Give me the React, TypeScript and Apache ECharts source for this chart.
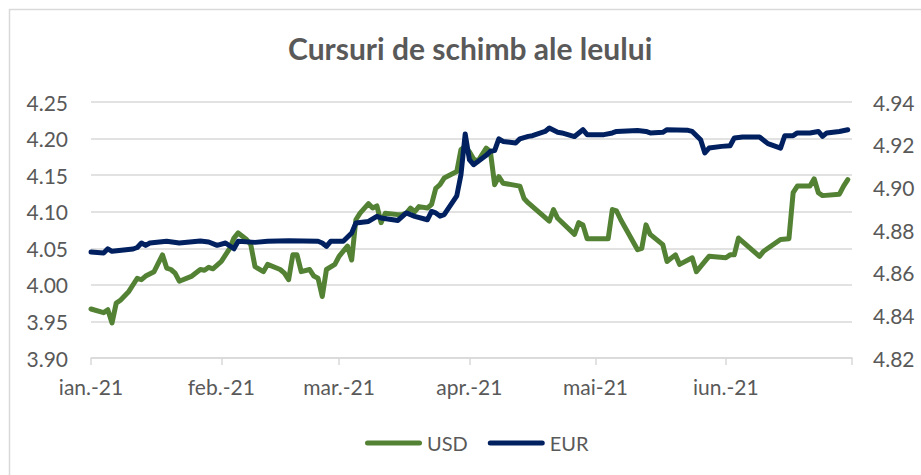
import React, { useEffect, useRef } from "react";
import * as echarts from "echarts";

const TITLE = "Cursuri de schimb ale leului";
const MONTH_LABELS = ["ian.-21", "feb.-21", "mar.-21", "apr.-21", "mai-21", "iun.-21"];
const MONTH_STARTS = ["2021-01-01", "2021-02-01", "2021-03-01", "2021-04-01", "2021-05-01", "2021-06-01"];
const AXIS_END = "2021-07-01";

const usdDates = [
  "2021-01-01", "2021-01-04", "2021-01-05", "2021-01-06", "2021-01-07", "2021-01-08", "2021-01-10", "2021-01-12",
  "2021-01-13", "2021-01-14", "2021-01-16", "2021-01-18", "2021-01-19", "2021-01-20", "2021-01-21", "2021-01-22",
  "2021-01-25", "2021-01-27", "2021-01-28", "2021-01-29", "2021-01-30", "2021-02-01", "2021-02-03", "2021-02-04",
  "2021-02-05", "2021-02-07", "2021-02-08", "2021-02-09", "2021-02-11", "2021-02-12", "2021-02-15", "2021-02-16",
  "2021-02-17", "2021-02-18", "2021-02-19", "2021-02-20", "2021-02-22", "2021-02-23", "2021-02-24", "2021-02-25",
  "2021-02-26", "2021-02-28", "2021-03-01", "2021-03-03", "2021-03-04", "2021-03-05", "2021-03-06", "2021-03-08",
  "2021-03-09", "2021-03-10", "2021-03-11", "2021-03-12", "2021-03-15", "2021-03-16", "2021-03-17", "2021-03-18",
  "2021-03-19", "2021-03-20", "2021-03-22", "2021-03-23", "2021-03-24", "2021-03-25", "2021-03-26", "2021-03-29",
  "2021-03-30", "2021-03-31", "2021-04-01", "2021-04-02", "2021-04-03", "2021-04-05", "2021-04-06", "2021-04-07",
  "2021-04-08", "2021-04-09", "2021-04-12", "2021-04-13", "2021-04-14", "2021-04-15", "2021-04-20", "2021-04-21",
  "2021-04-22", "2021-04-26", "2021-04-27", "2021-04-28", "2021-04-29", "2021-05-04", "2021-05-05", "2021-05-06",
  "2021-05-07", "2021-05-11", "2021-05-12", "2021-05-13", "2021-05-14", "2021-05-17", "2021-05-18", "2021-05-20",
  "2021-05-21", "2021-05-24", "2021-05-25", "2021-05-27", "2021-05-28", "2021-06-01", "2021-06-02", "2021-06-03",
  "2021-06-04", "2021-06-09", "2021-06-10", "2021-06-11", "2021-06-14", "2021-06-16", "2021-06-17", "2021-06-18",
  "2021-06-21", "2021-06-22", "2021-06-23", "2021-06-24", "2021-06-28", "2021-06-29", "2021-06-30",
];
const usdValues = [
  3.967, 3.962, 3.966, 3.948, 3.975, 3.979, 3.991, 4.009,
  4.007, 4.012, 4.018, 4.041, 4.023, 4.021, 4.016, 4.005,
  4.012, 4.021, 4.02, 4.024, 4.022, 4.032, 4.05, 4.064,
  4.071, 4.062, 4.055, 4.025, 4.018, 4.028, 4.021, 4.016,
  4.007, 4.041, 4.041, 4.018, 4.021, 4.012, 4.009, 3.984,
  4.021, 4.028, 4.039, 4.053, 4.034, 4.089, 4.098, 4.111,
  4.105, 4.108, 4.085, 4.098, 4.096, 4.096, 4.098, 4.105,
  4.1, 4.107, 4.105, 4.11, 4.132, 4.137, 4.146, 4.155,
  4.185, 4.189, 4.182, 4.172, 4.169, 4.187, 4.182, 4.137,
  4.148, 4.139, 4.136, 4.135, 4.118, 4.112, 4.087, 4.103,
  4.091, 4.069, 4.085, 4.082, 4.063, 4.063, 4.103, 4.101,
  4.089, 4.048, 4.05, 4.082, 4.069, 4.055, 4.032, 4.041,
  4.028, 4.037, 4.018, 4.032, 4.039, 4.037, 4.041, 4.041,
  4.064, 4.039, 4.046, 4.05, 4.062, 4.063, 4.126, 4.135,
  4.135, 4.145, 4.126, 4.122, 4.124, 4.135, 4.144,
];

const eurDates = [
  "2021-01-01", "2021-01-04", "2021-01-05", "2021-01-06", "2021-01-11", "2021-01-12", "2021-01-13", "2021-01-14",
  "2021-01-15", "2021-01-19", "2021-01-22", "2021-01-27", "2021-01-29", "2021-01-31", "2021-02-02", "2021-02-04",
  "2021-02-05", "2021-02-09", "2021-02-12", "2021-02-17", "2021-02-24", "2021-02-25", "2021-02-26", "2021-02-27",
  "2021-03-02", "2021-03-04", "2021-03-05", "2021-03-08", "2021-03-10", "2021-03-11", "2021-03-15", "2021-03-17",
  "2021-03-19", "2021-03-22", "2021-03-23", "2021-03-24", "2021-03-25", "2021-03-26", "2021-03-29", "2021-03-30",
  "2021-03-31", "2021-04-01", "2021-04-02", "2021-04-05", "2021-04-06", "2021-04-07", "2021-04-08", "2021-04-09",
  "2021-04-12", "2021-04-13", "2021-04-15", "2021-04-16", "2021-04-19", "2021-04-20", "2021-04-22", "2021-04-23",
  "2021-04-26", "2021-04-28", "2021-04-29", "2021-05-03", "2021-05-05", "2021-05-06", "2021-05-11", "2021-05-13",
  "2021-05-14", "2021-05-17", "2021-05-18", "2021-05-23", "2021-05-24", "2021-05-26", "2021-05-27", "2021-05-28",
  "2021-05-31", "2021-06-02", "2021-06-03", "2021-06-05", "2021-06-09", "2021-06-11", "2021-06-14", "2021-06-15",
  "2021-06-17", "2021-06-18", "2021-06-21", "2021-06-23", "2021-06-24", "2021-06-25", "2021-06-28", "2021-06-30",
];
const eurValues = [
  4.8697, 4.8692, 4.8712, 4.87, 4.8711, 4.8718, 4.8739, 4.8728,
  4.8739, 4.8747, 4.8739, 4.8748, 4.8744, 4.8728, 4.8739, 4.8712,
  4.8747, 4.8742, 4.8747, 4.875, 4.8747, 4.8739, 4.8723, 4.8747,
  4.8747, 4.8786, 4.8833, 4.884, 4.8864, 4.8856, 4.8845, 4.888,
  4.8864, 4.8848, 4.8887, 4.888, 4.8865, 4.8872, 4.896, 4.906,
  4.925, 4.913, 4.9106, 4.915, 4.9169, 4.9172, 4.9227, 4.9215,
  4.9208, 4.9227, 4.9239, 4.9242, 4.9262, 4.9278, 4.9258, 4.9255,
  4.9238, 4.927, 4.9247, 4.9247, 4.9255, 4.9262, 4.9266, 4.9262,
  4.9255, 4.9258, 4.927, 4.9267, 4.9262, 4.9223, 4.9161, 4.9184,
  4.9192, 4.9195, 4.9231, 4.9236, 4.9236, 4.9205, 4.9184, 4.9242,
  4.9242, 4.9255, 4.9255, 4.9262, 4.9239, 4.9255, 4.9262, 4.927,
];

const FONT = "Lato";
const TEXT_COLOR = "#595959";
const GRID_COLOR = "#d9d9d9";
const USD_COLOR = "#548235";
const EUR_COLOR = "#002060";
const LEGEND_ICON = "path://M2.5,0 H54.5 A2.5,2.5 0 0 1 54.5,5 H2.5 A2.5,2.5 0 0 1 2.5,0 Z";

// day index counted from the first day of the axis
function dayIndex(d: string): number {
  const [y, m, day] = d.split("-").map(Number);
  const t = Date.UTC(y, m - 1, day);
  const [y0, m0, d0] = MONTH_STARTS[0].split("-").map(Number);
  return Math.round((t - Date.UTC(y0, m0 - 1, d0)) / 86400000);
}

export default function App() {
  const ref = useRef<HTMLDivElement>(null);

  useEffect(() => {
    if (!ref.current) return;
    const chart = echarts.init(ref.current, null, { renderer: "svg" });
    const labelTicks = MONTH_STARTS.map(dayIndex);
    const tickTicks = [...labelTicks, dayIndex(AXIS_END)];

    chart.setOption({
      animation: false,
      backgroundColor: "#ffffff",
      title: {
        text: TITLE,
        left: 288,
        top: 33,
        padding: 0,
        textStyle: { fontFamily: FONT, fontSize: 30, fontWeight: "bold", color: TEXT_COLOR },
      },
      legend: {
        data: ["USD", "EUR"],
        left: 365,
        top: 433,
        padding: 0,
        icon: LEGEND_ICON,
        itemWidth: 57,
        itemHeight: 5,
        itemGap: 20,
        textStyle: { fontFamily: FONT, fontSize: 20, color: TEXT_COLOR },
      },
      grid: { left: 91, right: 69, top: 102, bottom: 117, containLabel: false },
      xAxis: {
        type: "value",
        min: 0,
        max: dayIndex(AXIS_END),
        axisLine: { show: true, lineStyle: { color: GRID_COLOR, width: 1.5 } },
        axisTick: { show: true, length: 7, customValues: tickTicks, lineStyle: { color: GRID_COLOR, width: 1.5 } },
        axisLabel: {
          customValues: labelTicks,
          margin: 18,
          fontFamily: FONT,
          fontSize: 21,
          color: TEXT_COLOR,
          formatter: (v: number) => {
            const idx = labelTicks.indexOf(Math.round(v));
            return idx >= 0 ? MONTH_LABELS[idx] : "";
          },
        },
        splitLine: { show: false },
      },
      yAxis: [
        {
          type: "value",
          position: "left",
          min: 3.9,
          max: 4.25,
          interval: 0.05,
          axisLine: { show: false },
          axisTick: { show: false },
          axisLabel: {
            margin: 23,
            fontFamily: FONT,
            fontSize: 21,
            color: TEXT_COLOR,
            formatter: (v: number) => v.toFixed(2),
          },
          splitLine: { show: true, lineStyle: { color: GRID_COLOR, width: 1.5 } },
        },
        {
          type: "value",
          position: "right",
          min: 4.82,
          max: 4.94,
          interval: 0.02,
          axisLine: { show: false },
          axisTick: { show: false },
          axisLabel: {
            margin: 21,
            fontFamily: FONT,
            fontSize: 21,
            color: TEXT_COLOR,
            formatter: (v: number) => v.toFixed(2),
          },
          splitLine: { show: false },
        },
      ],
      series: [
        {
          name: "USD",
          type: "line",
          yAxisIndex: 0,
          symbol: "none",
          showSymbol: false,
          color: USD_COLOR,
          itemStyle: { color: USD_COLOR },
          lineStyle: { width: 5, color: USD_COLOR, cap: "round", join: "round" },
          data: usdDates.map((d, i) => [dayIndex(d), usdValues[i]]),
        },
        {
          name: "EUR",
          type: "line",
          yAxisIndex: 1,
          symbol: "none",
          showSymbol: false,
          color: EUR_COLOR,
          itemStyle: { color: EUR_COLOR },
          lineStyle: { width: 5, color: EUR_COLOR, cap: "round", join: "round" },
          data: eurDates.map((d, i) => [dayIndex(d), eurValues[i]]),
        },
      ],
      graphic: [
        { type: "line", shape: { x1: 9, y1: 9.5, x2: 921, y2: 9.5 }, style: { stroke: GRID_COLOR, lineWidth: 1.5 }, silent: true },
        { type: "line", shape: { x1: 9.5, y1: 9, x2: 9.5, y2: 475 }, style: { stroke: GRID_COLOR, lineWidth: 1.5 }, silent: true },
      ],
    });

    return () => chart.dispose();
  }, []);

  return (
    <div
      ref={ref}
      style={{ position: "fixed", left: 0, top: 0, width: 921, height: 475, background: "#fff" }}
    />
  );
}
